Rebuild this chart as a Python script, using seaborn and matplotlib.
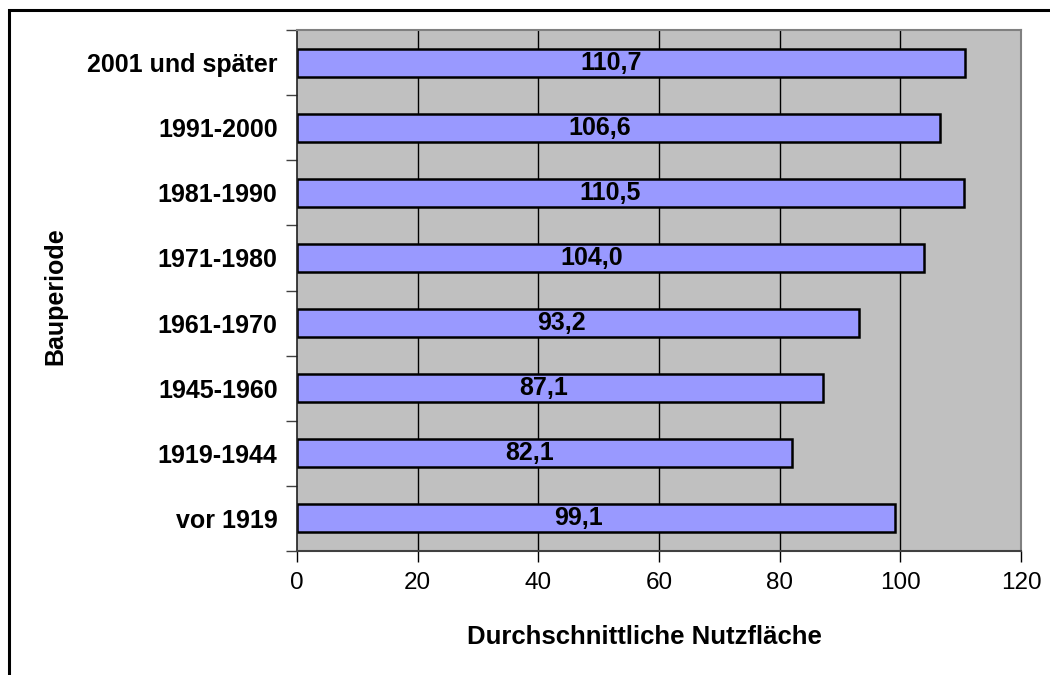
import matplotlib
matplotlib.use("Agg")
import matplotlib.pyplot as plt
import seaborn as sns
import pandas as pd
from matplotlib.patches import Rectangle

# data
periods = ["2001 und später", "1991-2000", "1981-1990", "1971-1980",
           "1961-1970", "1945-1960", "1919-1944", "vor 1919"]
flaeche = [110.7, 106.6, 110.5, 104.0, 93.2, 87.1, 82.1, 99.1]

df = pd.DataFrame({"Bauperiode": periods, "Nutzflaeche": flaeche})

sns.set_style("white")
plt.rcParams["font.family"] = ["Liberation Sans", "DejaVu Sans"]
plt.rcParams.update({"text.color": "black", "axes.labelcolor": "black",
                     "xtick.color": "black", "ytick.color": "black"})

fig = plt.figure(figsize=(10.5, 6.75), dpi=100)
ax = fig.add_axes([297 / 1050, 1 - 551 / 675, (1021 - 297) / 1050, (551 - 30) / 675])
ax.set_facecolor("#C0C0C0")

# vertical grid lines behind the bars
for gx in range(20, 120, 20):
    ax.axvline(gx, color="black", lw=1, zorder=0.5)

sns.barplot(data=df, y="Bauperiode", x="Nutzflaeche", orient="h",
            color="#9999FF", edgecolor="black", linewidth=1.8,
            width=0.43, saturation=1, ax=ax, zorder=2)

# value labels (German decimal comma)
for i, v in enumerate(flaeche):
    ax.text(v * 0.47, i, f"{v:.1f}".replace(".", ","), ha="center", va="center",
            fontsize=18, fontweight="bold", color="black", zorder=3)

ax.set_xlim(0, 120)
ax.set_ylim(len(periods) - 0.5, -0.5)
ax.set_xticks(range(0, 121, 20))
ax.set_xticklabels([str(t) for t in range(0, 121, 20)], fontsize=17.5)
ax.tick_params(axis="x", length=8, width=1, color="black", pad=7, direction="out", bottom=True)

# category labels without tick marks, tick marks at category boundaries
ax.set_yticks(range(len(periods)))
ax.set_yticklabels(periods, fontsize=18, fontweight="bold")
ax.tick_params(axis="y", which="major", length=0, pad=14)
ax.set_yticks([i - 0.5 for i in range(len(periods) + 1)], minor=True)
ax.tick_params(axis="y", which="minor", length=8, width=1, color="#404040", direction="out", left=True)

ax.set_xlabel("Durchschnittliche Nutzfläche", fontsize=18.5, fontweight="bold")
ax.set_ylabel("Bauperiode", fontsize=18, fontweight="bold")
ax.xaxis.set_label_coords(0.48, -0.142)
ax.yaxis.set_label_coords(-0.317, 0.49)

for side in ["top", "right"]:
    ax.spines[side].set_visible(True)
    ax.spines[side].set_color("#808080")
    ax.spines[side].set_linewidth(1.5)
ax.spines["left"].set_color("#202020")
ax.spines["left"].set_linewidth(1.2)
ax.spines["bottom"].set_color("#404040")
ax.spines["bottom"].set_linewidth(1.5)

# outer chart border
fig.patches.append(Rectangle((9 / 1050, -0.1), 1.2, 1 - 10 / 675 + 0.1,
                             transform=fig.transFigure, fill=False,
                             edgecolor="black", linewidth=2.2))

fig.savefig("out.png", dpi=100)
